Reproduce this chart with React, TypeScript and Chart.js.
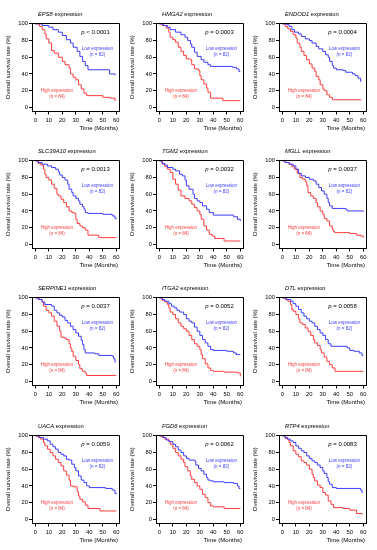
import React, { useEffect, useRef } from 'react';
import { Chart, registerables } from 'chart.js';
Chart.register(...registerables);

type Pt = [number, number];

const FONT = '"Liberation Sans", Arial, sans-serif';
const BLUE = '#3c3cff';
const RED = '#ff3c3c';

const X_TICKS = [0, 10, 20, 30, 40, 50, 60];
const Y_TICKS = [0, 20, 40, 60, 80, 100];

const GENES = ['EPS8', 'HMGA2', 'ENDOD1', 'SLC39A10', 'TGM2', 'MGLL', 'SERPINE1', 'ITGA2', 'DTL', 'UACA', 'FGD6', 'RTP4'];
const P_TEXTS = ['< 0.0001', '= 0.0003', '= 0.0004', '= 0.0013', '= 0.0032', '= 0.0037', '= 0.0037', '= 0.0052', '= 0.0058', '= 0.0059', '= 0.0062', '= 0.0083'];
const LOW_LABEL = 'Low expression';
const LOW_N = '(n = 82)';
const HIGH_LABEL = 'High expression';
const HIGH_N = '(n = 84)';

const EPS8_LOW: Pt[] = [[0,100],[5,98],[10,96],[13,93],[17,90],[20,86],[23,81],[26,77],[28,72],[31,67],[33,61],[35,55],[37,50],[39,45],[55,40],[59,39],[59.5,39]];
const EPS8_HIGH: Pt[] = [[0,100],[3,97],[5,93],[7,88],[8,82],[10,77],[12,68],[14,65],[17,60],[20,55],[22,51],[25,47],[26,40],[28,36],[30,33],[32,27],[34,22],[36,17],[38,14],[50,12],[55,11],[59,8],[59.5,8]];
const HMGA2_LOW: Pt[] = [[0,100],[3,98],[6,96],[8,93],[12,90],[16,87],[19,84],[21,80],[23,76],[24,72],[26,66],[28,61],[31,57],[33,54],[36,51],[38,49],[54,48],[57,46],[59,43],[60,43]];
const HMGA2_HIGH: Pt[] = [[0,100],[2,98],[5,95],[7,90],[8,84],[10,81],[12,78],[14,72],[16,67],[18,62],[20,58],[23,57],[24,51],[26,46],[29,44],[30,38],[31,33],[33,28],[35,23],[36,18],[38,11],[47,8],[60,8]];
const ENDOD1_LOW: Pt[] = [[0,100],[3,99],[5,97],[7,93],[9,90],[12,88],[14,85],[17,82],[20,80],[22,77],[25,73],[27,70],[30,67],[32,63],[34,60],[35,55],[37,50],[38,47],[40,45],[45,44],[47,42],[52,40],[54,38],[56,35],[58,31],[58.5,31]];
const ENDOD1_HIGH: Pt[] = [[0,100],[2,97],[4,94],[6,91],[8,87],[10,83],[11,77],[13,72],[14,67],[16,62],[18,57],[20,52],[22,47],[24,43],[25,37],[27,33],[28,27],[30,22],[31,20],[33,15],[35,12],[37,9],[58.5,9]];
const SLC39A10_LOW: Pt[] = [[0,100],[2,98],[5,96],[9,94],[12,92],[15,90],[17,87],[18,83],[20,80],[22,77],[24,72],[25,66],[27,62],[28,58],[30,55],[32,52],[33,48],[35,45],[36,42],[37,38],[39,37],[50,36],[57,34],[59,31],[60,30]];
const SLC39A10_HIGH: Pt[] = [[0,100],[2,97],[4,95],[6,90],[7,84],[8,80],[10,77],[12,72],[14,67],[16,60],[17,58],[19,54],[21,50],[23,45],[25,40],[27,38],[29,37],[30,30],[31,25],[33,22],[35,20],[37,17],[39,11],[47,8],[60,8]];
const TGM2_LOW: Pt[] = [[0,100],[2,97],[4,95],[6,92],[10,90],[12,88],[15,84],[17,82],[19,77],[20,70],[22,66],[25,60],[26,55],[28,52],[30,50],[32,46],[35,42],[37,38],[40,35],[55,33],[58,30],[60,28]];
const TGM2_HIGH: Pt[] = [[0,100],[2,96],[4,93],[6,90],[8,86],[10,78],[12,72],[14,65],[16,58],[19,55],[22,52],[24,48],[26,44],[28,40],[30,36],[31,30],[33,22],[35,17],[37,12],[39,10],[41,7],[48,4],[60,4]];
const MGLL_LOW: Pt[] = [[0,100],[2,98],[5,96],[8,94],[10,90],[12,85],[14,82],[17,80],[20,78],[23,76],[25,72],[27,68],[29,64],[31,60],[33,55],[34,50],[35,46],[37,43],[47,42],[48,40],[60,39]];
const MGLL_HIGH: Pt[] = [[0,100],[2,98],[5,96],[7,93],[9,90],[11,85],[13,80],[15,78],[17,75],[18,70],[19,62],[21,58],[23,55],[25,50],[26,45],[28,40],[30,36],[31,31],[33,28],[35,22],[37,18],[38,15],[39,14],[50,13],[55,11],[58,10],[60,8]];
const SERPINE1_LOW: Pt[] = [[0,100],[2,98],[5,95],[7,92],[12,90],[14,85],[16,82],[18,79],[20,77],[22,73],[24,70],[26,66],[28,62],[30,58],[32,54],[34,49],[35,44],[36,38],[37,34],[44,33],[47,31],[57,30],[58,27],[59,23],[59.5,23]];
const SERPINE1_HIGH: Pt[] = [[0,100],[3,98],[5,95],[6,90],[8,85],[10,82],[12,78],[14,72],[16,66],[18,60],[19,53],[21,52],[23,50],[25,45],[26,40],[27,36],[28,30],[30,25],[32,20],[33,15],[35,12],[37,10],[38,7],[60,7]];
const ITGA2_LOW: Pt[] = [[0,100],[2,98],[4,96],[7,93],[9,90],[11,88],[13,85],[15,83],[18,80],[20,75],[22,72],[24,70],[26,65],[28,60],[30,55],[32,50],[34,46],[36,42],[38,38],[40,37],[50,36],[55,34],[57,32],[60,32]];
const ITGA2_HIGH: Pt[] = [[0,100],[2,97],[4,95],[6,92],[7,88],[8,83],[10,80],[12,75],[14,70],[16,66],[18,63],[20,60],[22,55],[24,50],[26,45],[28,42],[30,38],[31,32],[32,27],[34,21],[36,16],[38,13],[40,12],[48,11],[58,10],[60,6]];
const DTL_LOW: Pt[] = [[0,100],[3,98],[6,96],[8,93],[10,90],[12,86],[14,82],[16,78],[18,75],[20,72],[22,70],[24,66],[26,62],[28,58],[30,55],[32,50],[34,45],[36,42],[48,40],[50,37],[53,36],[57,34],[59,31],[60,31]];
const DTL_HIGH: Pt[] = [[0,100],[2,98],[4,96],[6,92],[7,86],[8,84],[10,80],[12,75],[13,70],[15,68],[17,64],[19,60],[21,55],[23,50],[24,46],[26,43],[28,38],[29,34],[31,29],[33,24],[35,20],[37,16],[39,12],[60,12]];
const UACA_LOW: Pt[] = [[0,100],[3,98],[6,96],[9,94],[11,90],[13,87],[15,84],[17,80],[19,78],[21,76],[23,72],[25,71],[27,66],[29,62],[30,58],[32,52],[34,47],[36,44],[38,40],[40,38],[52,37],[57,35],[59,31],[60,30]];
const UACA_HIGH: Pt[] = [[0,100],[2,98],[4,96],[6,92],[7,88],[9,84],[11,80],[13,76],[15,72],[17,68],[19,64],[21,58],[23,53],[25,47],[26,40],[28,39],[31,33],[32,28],[33,24],[35,21],[37,17],[39,13],[48,10],[60,10]];
const FGD6_LOW: Pt[] = [[0,100],[3,98],[5,95],[7,93],[10,90],[12,87],[14,83],[16,80],[18,76],[20,73],[22,71],[26,70],[27,65],[29,61],[31,58],[33,54],[35,50],[36,47],[38,46],[40,45],[48,44],[55,43],[58,40],[59,37],[60,37]];
const FGD6_HIGH: Pt[] = [[0,100],[2,98],[4,96],[7,94],[8,90],[10,85],[12,80],[14,76],[16,72],[18,68],[19,63],[21,58],[23,52],[24,48],[26,44],[28,40],[30,36],[32,30],[34,26],[36,20],[38,16],[40,15],[48,13],[60,13]];
const RTP4_LOW: Pt[] = [[0,100],[2,98],[4,96],[6,94],[8,92],[10,88],[12,85],[14,82],[16,80],[18,76],[20,73],[22,70],[24,68],[26,65],[28,62],[30,58],[31,55],[33,50],[34,45],[35,42],[37,38],[40,37],[58,35],[59,32],[59.5,32]];
const RTP4_HIGH: Pt[] = [[0,100],[2,97],[4,95],[5,92],[6,88],[8,82],[10,78],[12,75],[14,70],[16,68],[18,65],[20,60],[22,54],[23,50],[24,46],[26,41],[28,38],[30,32],[32,29],[34,22],[36,18],[38,14],[45,13],[50,11],[55,7],[59,6],[59.5,6]];

const LOW_SERIES: Pt[][] = [EPS8_LOW, HMGA2_LOW, ENDOD1_LOW, SLC39A10_LOW, TGM2_LOW, MGLL_LOW, SERPINE1_LOW, ITGA2_LOW, DTL_LOW, UACA_LOW, FGD6_LOW, RTP4_LOW];
const HIGH_SERIES: Pt[][] = [EPS8_HIGH, HMGA2_HIGH, ENDOD1_HIGH, SLC39A10_HIGH, TGM2_HIGH, MGLL_HIGH, SERPINE1_HIGH, ITGA2_HIGH, DTL_HIGH, UACA_HIGH, FGD6_HIGH, RTP4_HIGH];

const COL_X = [0, 124, 247];
const ROW_Y = [0, 137, 274, 412];
const PW = 125;
const PH = 137;

function Panel({ idx }: { idx: number }) {
  const ref = useRef<HTMLCanvasElement>(null);
  useEffect(() => {
    const gene = GENES[idx];
    const ptext = P_TEXTS[idx];
    const textPlugin = {
      id: 'panelText' + idx,
      afterDraw(chart: any) {
        const ctx = chart.ctx as CanvasRenderingContext2D;
        const { left, top, right, bottom } = chart.chartArea;
        const xs = chart.scales.x;
        const ys = chart.scales.y;
        ctx.save();
        ctx.strokeStyle = '#000';
        ctx.lineWidth = 1;
        ctx.beginPath();
        ctx.moveTo(Math.round(left), Math.round(top) + 0.5);
        ctx.lineTo(Math.round(right) + 0.5, Math.round(top) + 0.5);
        ctx.lineTo(Math.round(right) + 0.5, Math.round(bottom));
        ctx.stroke();

        // title
        ctx.fillStyle = '#000';
        ctx.textBaseline = 'middle';
        ctx.textAlign = 'left';
        ctx.font = `italic 5.8px ${FONT}`;
        ctx.fillText(gene, 38, 14);
        const gw = ctx.measureText(gene).width;
        ctx.font = `5.8px ${FONT}`;
        ctx.fillText(' expression', 38 + gw, 14);

        // p value
        const px = xs.getPixelForValue(34);
        const py = ys.getPixelForValue(90);
        ctx.font = `italic 6px ${FONT}`;
        ctx.fillText('p', px, py);
        const pw = ctx.measureText('p ').width;
        ctx.font = `6px ${FONT}`;
        ctx.fillText(ptext, px + pw, py);

        // group labels
        ctx.textAlign = 'center';
        ctx.font = `4.5px ${FONT}`;
        ctx.fillStyle = BLUE;
        ctx.fillText(LOW_LABEL, xs.getPixelForValue(46), ys.getPixelForValue(70));
        ctx.fillText(LOW_N, xs.getPixelForValue(46), ys.getPixelForValue(63));
        ctx.fillStyle = RED;
        ctx.fillText(HIGH_LABEL, xs.getPixelForValue(16), ys.getPixelForValue(20));
        ctx.fillText(HIGH_N, xs.getPixelForValue(16), ys.getPixelForValue(13));

        // axis titles
        ctx.fillStyle = '#000';
        ctx.font = `6px ${FONT}`;
        ctx.textAlign = 'right';
        ctx.fillText('Time (Months)', 118, 128.5);
        ctx.translate(8.5, (top + bottom) / 2);
        ctx.rotate(-Math.PI / 2);
        ctx.textAlign = 'center';
        ctx.fillText('Overall survival rate (%)', 0, 0);
        ctx.restore();
      },
    };

    const chart = new Chart(ref.current as HTMLCanvasElement, {
      type: 'line',
      data: {
        datasets: [
          {
            label: LOW_LABEL,
            data: LOW_SERIES[idx].map(([x, y]) => ({ x, y })),
            borderColor: BLUE,
            borderWidth: 1,
            pointRadius: 0,
            stepped: true,
            fill: false,
          },
          {
            label: HIGH_LABEL,
            data: HIGH_SERIES[idx].map(([x, y]) => ({ x, y })),
            borderColor: RED,
            borderWidth: 1,
            pointRadius: 0,
            stepped: true,
            fill: false,
          },
        ],
      },
      options: {
        animation: false,
        responsive: false,
        devicePixelRatio: 1,
        layout: { padding: { top: 23, right: 6, left: 0, bottom: 0 } },
        plugins: { legend: { display: false }, tooltip: { enabled: false }, title: { display: false } },
        scales: {
          x: {
            type: 'linear',
            min: -2.5,
            max: 62,
            afterBuildTicks: (axis: any) => {
              axis.ticks = X_TICKS.map((v) => ({ value: v }));
            },
            afterFit: (s: any) => {
              s.height = 25.5;
            },
            grid: { drawOnChartArea: false, drawTicks: true, tickLength: 3, color: '#000', lineWidth: 1 },
            border: { display: true, color: '#000', width: 1 },
            ticks: { color: '#000', font: { size: 5.8, family: FONT }, padding: 2, maxRotation: 0, autoSkip: false },
          },
          y: {
            type: 'linear',
            min: -5,
            max: 101,
            afterBuildTicks: (axis: any) => {
              axis.ticks = Y_TICKS.map((v) => ({ value: v }));
            },
            afterFit: (s: any) => {
              s.width = 32;
            },
            grid: { drawOnChartArea: false, drawTicks: true, tickLength: 3, color: '#000', lineWidth: 1 },
            border: { display: true, color: '#000', width: 1 },
            ticks: { color: '#000', font: { size: 5.8, family: FONT }, padding: 1, autoSkip: false },
          },
        },
      },
      plugins: [textPlugin],
    } as any);
    return () => chart.destroy();
  }, [idx]);

  const r = Math.floor(idx / 3);
  const c = idx % 3;
  return (
    <canvas
      ref={ref}
      width={PW}
      height={PH}
      style={{ position: 'absolute', left: COL_X[c], top: ROW_Y[r], width: PW, height: PH }}
    />
  );
}

export default function App() {
  return (
    <div style={{ position: 'fixed', left: 0, top: 0, width: 377, height: 550, background: '#fff', overflow: 'hidden' }}>
      {GENES.map((g, i) => (
        <Panel key={g} idx={i} />
      ))}
    </div>
  );
}
